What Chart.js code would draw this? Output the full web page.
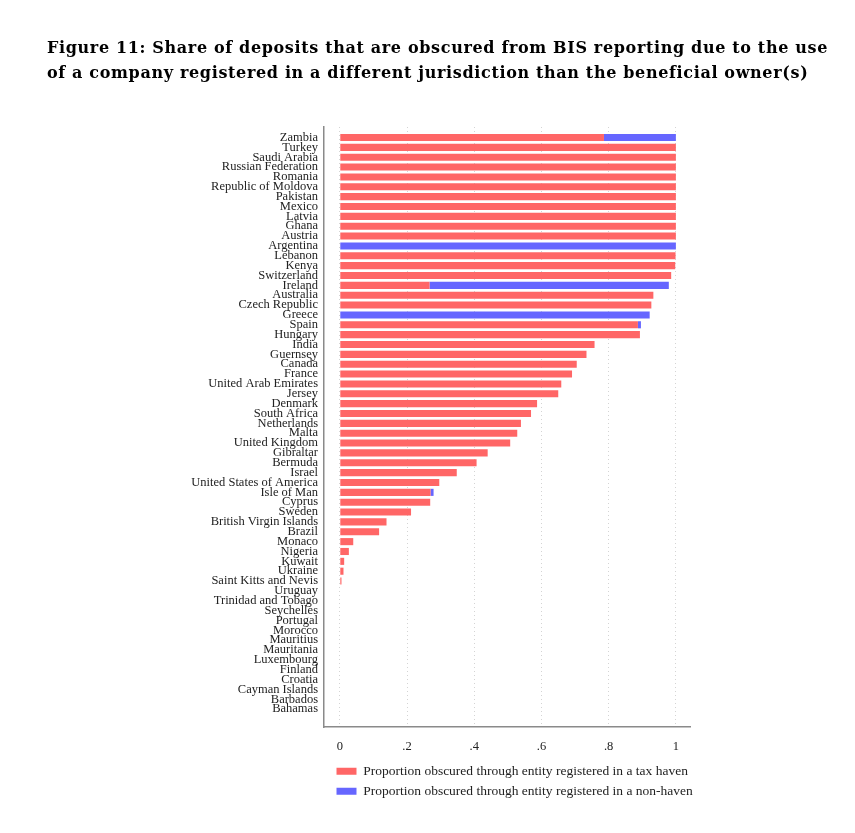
<!DOCTYPE html>
<html>
<head>
<meta charset="utf-8">
<script src="https://cdn.jsdelivr.net/npm/chart.js@4.4.1/dist/chart.umd.min.js"></script>
<style>
    body { margin: 0; background: #fff; }
    #wrap { position: absolute; left: 0; top: 0; width: 855px; height: 833px; }
    #title { position: absolute; left: 47px; top: 35px; font: bold 16px "DejaVu Serif", serif; letter-spacing: 0.65px; line-height: 25px; color: #000; white-space: nowrap; }
</style>
</head>
<body>
<div id="wrap"><canvas id="chart" width="855" height="833"></canvas></div>
<div id="title">Figure 11: Share of deposits that are obscured from BIS reporting due to the use<br>of a company registered in a different jurisdiction than the beneficial owner(s)</div>
<script>
'use strict';
var countries = ['Zambia', 'Turkey', 'Saudi Arabia', 'Russian Federation', 'Romania', 'Republic of Moldova',
    'Pakistan', 'Mexico', 'Latvia', 'Ghana', 'Austria', 'Argentina', 'Lebanon', 'Kenya', 'Switzerland',
    'Ireland', 'Australia', 'Czech Republic', 'Greece', 'Spain', 'Hungary', 'India', 'Guernsey', 'Canada',
    'France', 'United Arab Emirates', 'Jersey', 'Denmark', 'South Africa', 'Netherlands', 'Malta',
    'United Kingdom', 'Gibraltar', 'Bermuda', 'Israel', 'United States of America', 'Isle of Man', 'Cyprus',
    'Sweden', 'British Virgin Islands', 'Brazil', 'Monaco', 'Nigeria', 'Kuwait', 'Ukraine',
    'Saint Kitts and Nevis', 'Uruguay', 'Trinidad and Tobago', 'Seychelles', 'Portugal', 'Morocco',
    'Mauritius', 'Mauritania', 'Luxembourg', 'Finland', 'Croatia', 'Cayman Islands', 'Barbados', 'Bahamas'];

// share obscured through a company in a tax haven
var haven = [0.786, 1, 1, 1, 1, 1, 1, 1, 1, 1, 1, 0, 0.999, 0.998, 0.986,
    0.267, 0.933, 0.927, 0, 0.887, 0.893, 0.758, 0.734, 0.705,
    0.691, 0.659, 0.650, 0.587, 0.569, 0.539, 0.528,
    0.507, 0.440, 0.407, 0.348, 0.296, 0.270, 0.269,
    0.212, 0.139, 0.117, 0.040, 0.027, 0.013, 0.011,
    0.005, 0, 0, 0, 0, 0, 0, 0, 0, 0, 0, 0, 0, 0];

// share obscured through a company in a non-haven
var nonHaven = [0.214, 0, 0, 0, 0, 0, 0, 0, 0, 0, 0, 1, 0, 0, 0,
    0.712, 0, 0, 0.922, 0.009, 0, 0, 0, 0,
    0, 0, 0, 0, 0, 0, 0,
    0, 0, 0, 0, 0, 0.009, 0,
    0, 0, 0, 0, 0, 0, 0,
    0, 0, 0, 0, 0, 0, 0, 0, 0, 0, 0, 0, 0, 0];

var xTicks = [0, 0.2, 0.4, 0.6, 0.8, 1];
var legendLabels = ['Proportion obscured through entity registered in a tax haven',
    'Proportion obscured through entity registered in a non-haven'];

var serif = '"Liberation Serif", serif';

function points (arr) {
    return arr.map(function (v, i) { return { x: v, y: i }; });
}

function fmtTick (v) {
    var s = (Math.round(v * 10) / 10).toString();
    return s.replace(/^0\./, '.');
}

// nudge the legend so the boxes sit under the 0 gridline, a bit closer to the axis
var legendShift = {
    id: 'legendShift',
    afterLayout: function (chart) {
        var lg = chart.legend;
        if (lg) {
            lg.left += 6;
            lg.right += 6;
            lg.top -= 8;
            lg.bottom -= 8;
        }
    }
};

var ctx = document.getElementById('chart').getContext('2d');
var myChart = new Chart(ctx, {
    type: 'bar',
    data: {
        datasets: [{
            label: legendLabels[0],
            data: points(haven),
            backgroundColor: 'rgb(255, 102, 102)',
            borderWidth: 0,
            barPercentage: 0.72,
            categoryPercentage: 1
        }, {
            label: legendLabels[1],
            data: points(nonHaven),
            backgroundColor: 'rgb(102, 102, 255)',
            borderWidth: 0,
            barPercentage: 0.72,
            categoryPercentage: 1
        }]
    },
    options: {
        indexAxis: 'y',
        responsive: false,
        animation: false,
        layout: { padding: { top: 127, right: 165, bottom: 17, left: 0 } },
        scales: {
            x: {
                type: 'linear',
                stacked: true,
                min: -0.047,
                max: 1.042,
                afterBuildTicks: function (scale) {
                    scale.ticks = xTicks.map(function (v) { return { value: v }; });
                },
                grid: { color: '#d4d4d4', lineWidth: 1, drawTicks: false },
                border: { color: '#8a8a8a', width: 1.5, dash: [1, 3] },
                ticks: {
                    padding: 12,
                    color: '#222',
                    font: { family: serif, size: 12.5 },
                    callback: function (v) { return fmtTick(v); }
                }
            },
            y: {
                type: 'linear',
                stacked: true,
                reverse: true,
                min: -0.55,
                max: 59.29,
                afterBuildTicks: function (scale) {
                    scale.ticks = countries.map(function (c, i) { return { value: i }; });
                },
                afterFit: function (scale) { scale.width = 324; },
                grid: { display: false, drawTicks: false },
                border: { color: '#8a8a8a', width: 1.5 },
                ticks: {
                    autoSkip: false,
                    padding: 6,
                    color: '#222',
                    font: { family: serif, size: 12.5, lineHeight: 1 },
                    callback: function (v) { return countries[v] || ''; }
                }
            }
        },
        plugins: {
            legend: {
                position: 'bottom',
                align: 'start',
                fullSize: false,
                labels: {
                    boxWidth: 20,
                    boxHeight: 7,
                    padding: 6.5,
                    color: '#222',
                    font: { family: serif, size: 13.5 }
                }
            },
            tooltip: { enabled: false }
        }
    },
    plugins: [legendShift]
});
</script>
</body>
</html>
